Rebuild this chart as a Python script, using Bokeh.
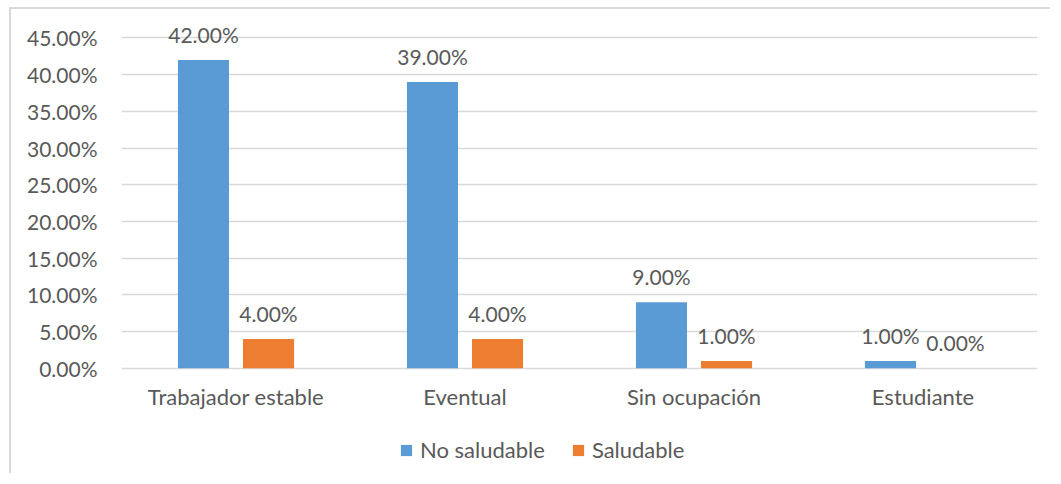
from bokeh.plotting import figure
from bokeh.models import ColumnDataSource, FactorRange, FixedTicker, NumeralTickFormatter, LabelSet, Legend, LegendItem
from bokeh.core.properties import value
from bokeh.transform import dodge
from bokeh.embed import file_html
from bokeh.resources import INLINE

categories = ["Trabajador estable", "Eventual", "Sin ocupación", "Estudiante"]
no_saludable = [0.42, 0.39, 0.09, 0.01]
saludable = [0.04, 0.04, 0.01, 0.00]
y_ticks = [0.0, 0.05, 0.10, 0.15, 0.20, 0.25, 0.30, 0.35, 0.40, 0.45]

FONT = "Lato"
TXT = "#595959"
BLUE = "#5B9BD5"
ORANGE = "#ED7D31"

src = ColumnDataSource(dict(
    cat=categories,
    zero=[0.0] * len(categories),
    ns=no_saludable,
    s=saludable,
    ns_lbl=[f"{v*100:.2f}%" for v in no_saludable],
    s_lbl=[f"{v*100:.2f}%" for v in saludable],
))

p = figure(x_range=FactorRange(*categories), y_range=(-0.1391, 0.475),
           width=1041, height=466, output_backend="svg", toolbar_location=None,
           min_border_left=110, min_border_right=15, min_border_top=10, min_border_bottom=5)
p.margin = (7, 0, 0, 9)
p.styles = {"border-left": "2px solid #D9D9D9", "border-top": "2px solid #D9D9D9"}
p.outline_line_color = None

off = 0.142
bw = 0.223
r1 = p.vbar(x=dodge("cat", -off, range=p.x_range), top="ns", width=bw, source=src,
            fill_color=BLUE, line_color=None)
r2 = p.vbar(x=dodge("cat", off, range=p.x_range), top="s", width=bw, source=src,
            fill_color=ORANGE, line_color=None)

for col, lbl, o in (("ns", "ns_lbl", -off), ("s", "s_lbl", off)):
    ls = LabelSet(x=dodge("cat", o, range=p.x_range), y=col, text=lbl, source=src,
                  text_align="center", text_baseline="bottom", y_offset=13,
                  text_font=value(FONT), text_font_size="21px", text_color=TXT)
    p.add_layout(ls)

# category labels under the baseline
cat_labels = LabelSet(x="cat", y="zero", text="cat", source=src,
                      text_align="center", text_baseline="top", y_offset=-15,
                      text_font=value(FONT), text_font_size="22px", text_color=TXT)
p.add_layout(cat_labels)
p.xaxis.visible = False

p.yaxis.ticker = FixedTicker(ticks=y_ticks)
p.yaxis.formatter = NumeralTickFormatter(format="0.00%")
ax = p.yaxis[0]
ax.axis_line_color = None
ax.major_tick_line_color = None
ax.minor_tick_line_color = None
ax.major_tick_out = 0
ax.major_tick_in = 0
ax.minor_tick_out = 0
ax.major_label_text_font = FONT
ax.major_label_text_color = TXT
ax.major_label_text_font_size = "21px"
ax.major_label_standoff = 24

p.xgrid.grid_line_color = None
p.ygrid.ticker = FixedTicker(ticks=y_ticks)
p.ygrid.grid_line_color = "#D9D9D9"
p.ygrid.grid_line_width = 1.5

legend = Legend(items=[LegendItem(label="No saludable", renderers=[r1]),
                       LegendItem(label="Saludable", renderers=[r2])],
                orientation="horizontal", location=(278, 7),
                glyph_width=14, glyph_height=14, label_standoff=7, spacing=26,
                padding=0, margin=0, border_line_color=None, background_fill_alpha=0,
                label_text_font=FONT, label_text_font_size="22px", label_text_color=TXT)
p.add_layout(legend, "center")

open("out.html", "w").write(file_html(p, INLINE))
